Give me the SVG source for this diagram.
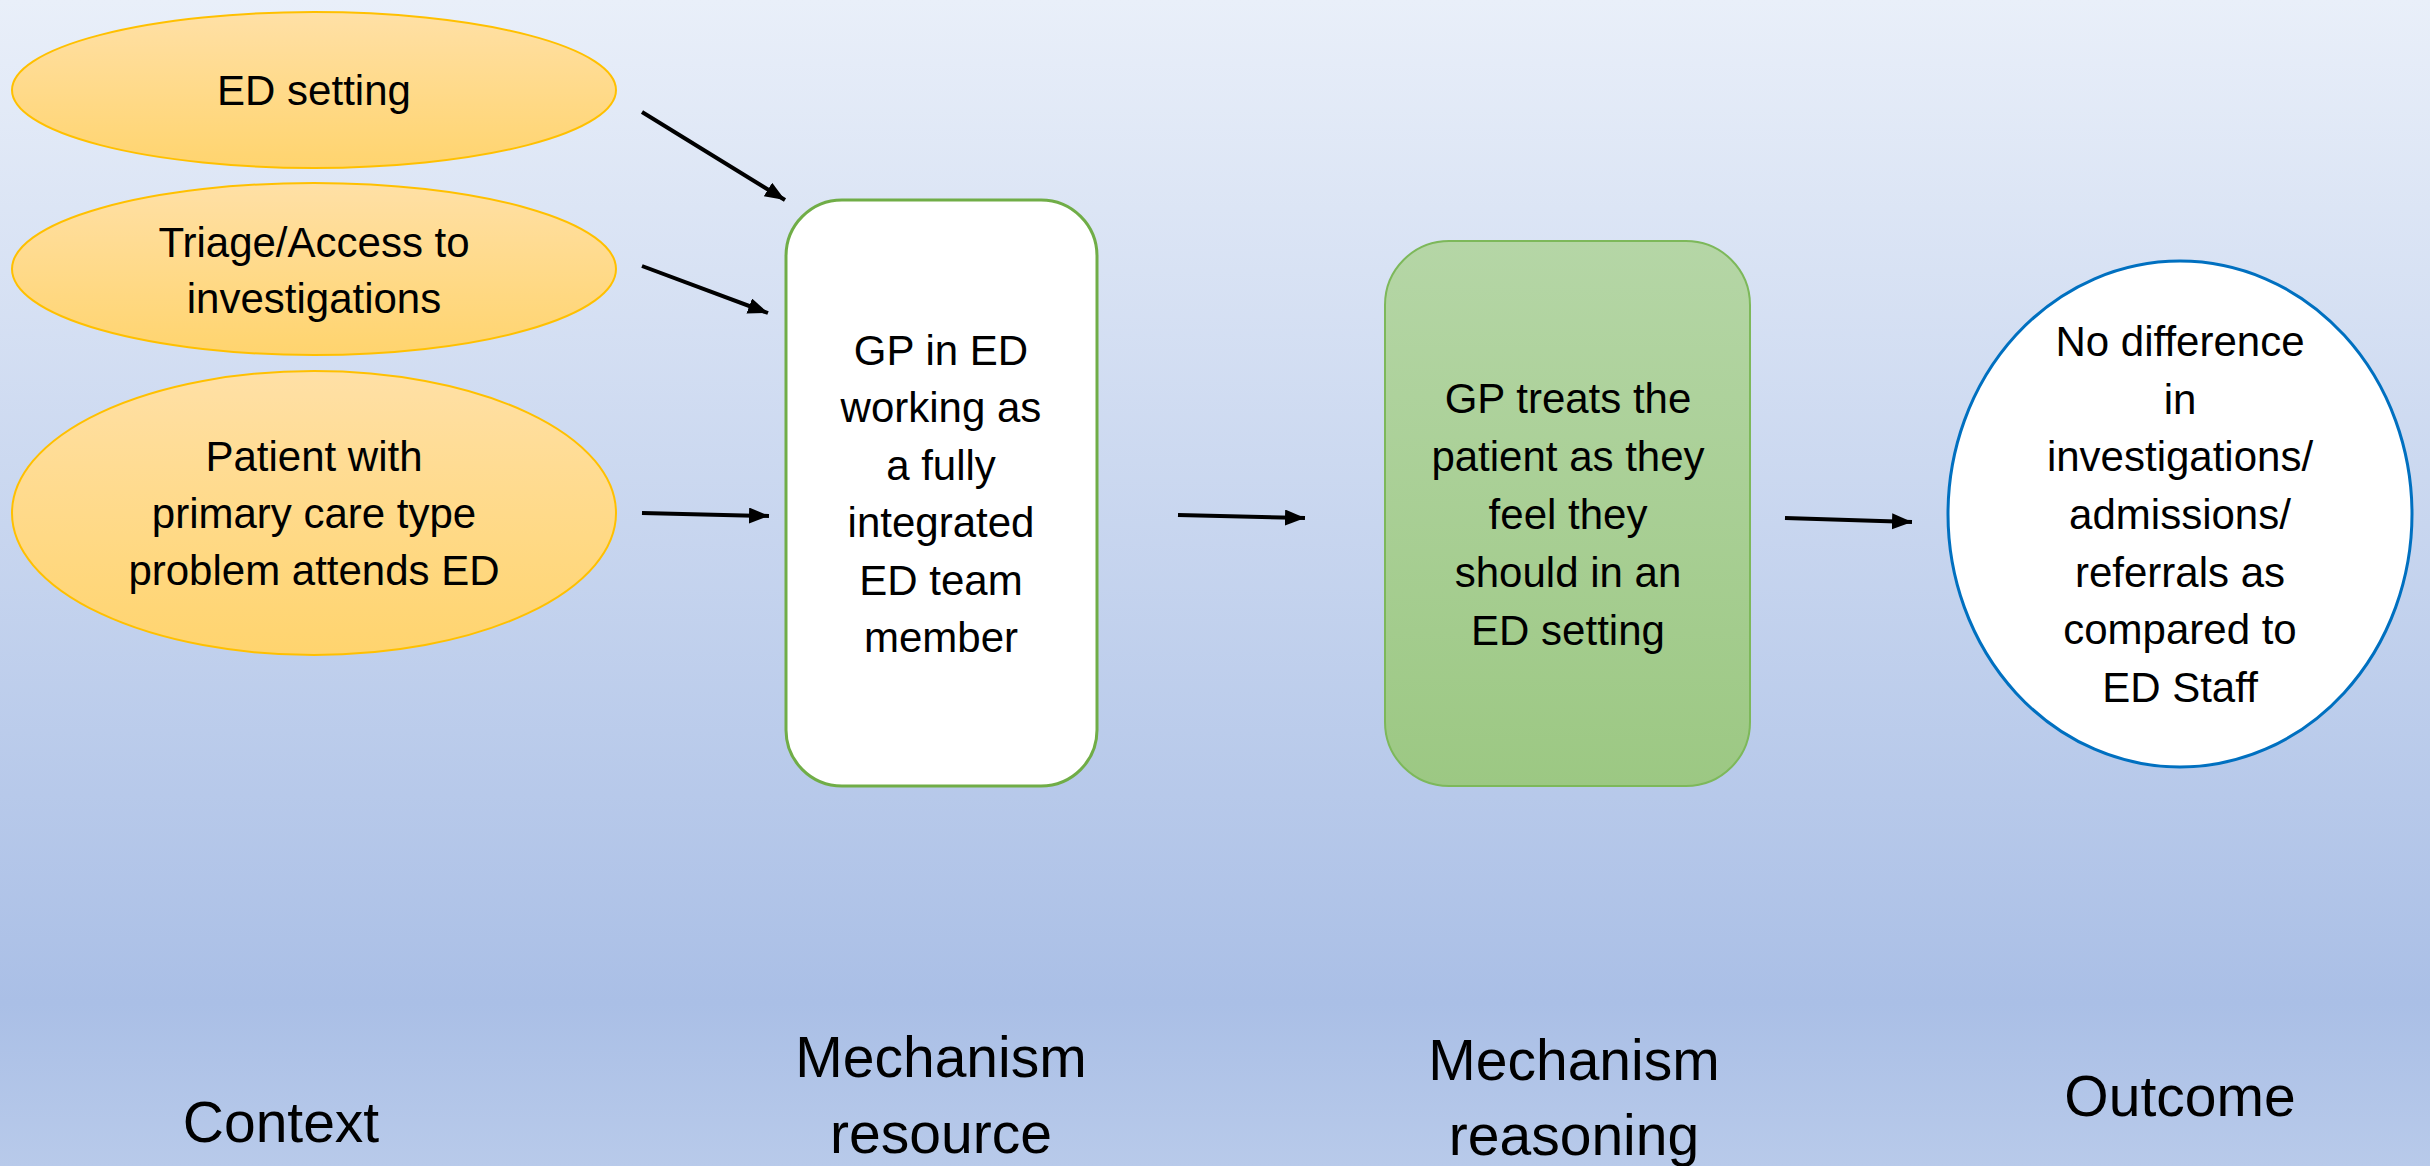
<svg xmlns="http://www.w3.org/2000/svg" width="2430" height="1166" viewBox="0 0 2430 1166">
<defs>
<linearGradient id="bg" x1="0" y1="0" x2="0" y2="1">
<stop offset="0" stop-color="#E9EFF9"/>
<stop offset="0.86" stop-color="#AABFE6"/>
<stop offset="1" stop-color="#B8CAEA"/>
</linearGradient>
<linearGradient id="orange" x1="0" y1="0" x2="0" y2="1">
<stop offset="0" stop-color="#FFE0A6"/>
<stop offset="1" stop-color="#FFD46E"/>
</linearGradient>
<linearGradient id="green" x1="0" y1="0" x2="0" y2="1">
<stop offset="0" stop-color="#B5D6A6"/>
<stop offset="1" stop-color="#9CC883"/>
</linearGradient>
<marker id="arr" markerUnits="userSpaceOnUse" markerWidth="24" markerHeight="18" refX="20" refY="8" orient="auto">
<path d="M0,0 L20,8 L0,16 Z" fill="#000"/>
</marker>
</defs>
<style>
text{font-family:"Liberation Sans",Arial,sans-serif;fill:#000;text-anchor:middle}
.t{font-size:42px}
.lab{font-size:57px}
.ctx{fill:url(#orange);stroke:#FFC000;stroke-width:2}
.conn line{stroke:#000;stroke-width:4;marker-end:url(#arr)}
</style>
<rect x="0" y="0" width="2430" height="1166" fill="url(#bg)"/>

<g id="ctx1">
<ellipse class="ctx" cx="314" cy="90" rx="302" ry="78"/>
<text class="t" x="314" y="105">ED setting</text>
</g>
<g id="ctx2">
<ellipse class="ctx" cx="314" cy="269" rx="302" ry="86"/>
<text class="t" x="314" y="257">Triage/Access to</text>
<text class="t" x="314" y="313">investigations</text>
</g>
<g id="ctx3">
<ellipse class="ctx" cx="314" cy="513" rx="302" ry="142"/>
<text class="t" x="314" y="471">Patient with</text>
<text class="t" x="314" y="528">primary care type</text>
<text class="t" x="314" y="585">problem attends ED</text>
</g>

<g id="resource">
<rect x="786" y="200" width="311" height="586" rx="56" ry="56" fill="#FFFFFF" stroke="#70AD47" stroke-width="3"/>
<text class="t" x="941" y="365">GP in ED</text>
<text class="t" x="941" y="422">working as</text>
<text class="t" x="941" y="480">a fully</text>
<text class="t" x="941" y="537">integrated</text>
<text class="t" x="941" y="595">ED team</text>
<text class="t" x="941" y="652">member</text>
</g>

<g id="reasoning">
<rect x="1385" y="241" width="365" height="545" rx="64" ry="64" fill="url(#green)" stroke="#7DB85A" stroke-width="2"/>
<text class="t" x="1568" y="413">GP treats the</text>
<text class="t" x="1568" y="471">patient as they</text>
<text class="t" x="1568" y="529">feel they</text>
<text class="t" x="1568" y="587">should in an</text>
<text class="t" x="1568" y="645">ED setting</text>
</g>

<g id="outcome">
<ellipse cx="2180" cy="514" rx="232" ry="253" fill="#FFFFFF" stroke="#0070C0" stroke-width="3"/>
<text class="t" x="2180" y="356">No difference</text>
<text class="t" x="2180" y="414">in</text>
<text class="t" x="2180" y="471">investigations/</text>
<text class="t" x="2180" y="529">admissions/</text>
<text class="t" x="2180" y="587">referrals as</text>
<text class="t" x="2180" y="644">compared to</text>
<text class="t" x="2180" y="702">ED Staff</text>
</g>

<g id="connectors" class="conn">
<line x1="642" y1="112" x2="785" y2="200"/>
<line x1="642" y1="266" x2="768" y2="313"/>
<line x1="642" y1="513" x2="769" y2="516"/>
<line x1="1178" y1="515" x2="1305" y2="518"/>
<line x1="1785" y1="518" x2="1912" y2="522"/>
</g>

<g id="labels">
<text class="lab" x="281" y="1142">Context</text>
<text class="lab" x="941" y="1077">Mechanism</text>
<text class="lab" x="941" y="1153">resource</text>
<text class="lab" x="1574" y="1080">Mechanism</text>
<text class="lab" x="1574" y="1155">reasoning</text>
<text class="lab" x="2180" y="1116">Outcome</text>
</g>
</svg>
